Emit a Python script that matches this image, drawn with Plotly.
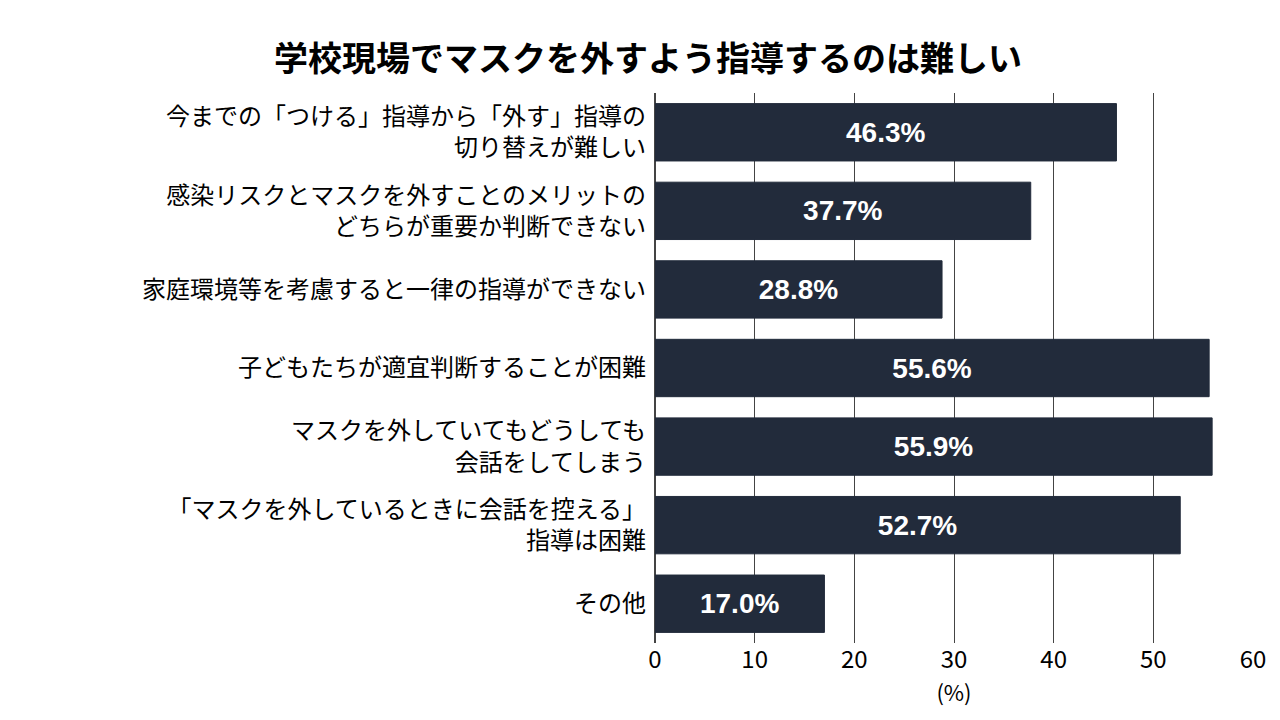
import plotly.graph_objects as go

categories = [
    "今までの「つける」指導から「外す」指導の<br>切り替えが難しい",
    "感染リスクとマスクを外すことのメリットの<br>どちらが重要か判断できない",
    "家庭環境等を考慮すると一律の指導ができない",
    "子どもたちが適宜判断することが困難",
    "マスクを外していてもどうしても<br>会話をしてしまう",
    "「マスクを外しているときに会話を控える」<br>指導は困難",
    "その他",
]
values = [46.3, 37.7, 28.8, 55.6, 55.9, 52.7, 17.0]
labels = [f"{v:.1f}%" for v in values]

font = "Noto Sans CJK JP"
fig = go.Figure(go.Bar(
    x=values, y=categories, orientation="h", width=0.73,
    marker=dict(color="#222b3b", line=dict(color="#222b3b", width=1)),
    text=labels, textposition="inside", insidetextanchor="middle",
    textfont=dict(color="white", size=28, family="Liberation Sans"),
    texttemplate="<b>%{text}</b>", cliponaxis=False,
))
fig.update_layout(
    width=1280, height=720, plot_bgcolor="white", paper_bgcolor="white",
    margin=dict(l=647, r=35, t=85, b=85),
    title=dict(text="<b>学校現場でマスクを外すよう指導するのは難しい</b>", x=0.5, xanchor="center",
               y=0.945, font=dict(size=34, family=font, color="black")),
    font=dict(family=font, color="black"),
    showlegend=False, bargap=0.27,
)
fig.update_xaxes(range=[0, 60], dtick=10, showgrid=True, gridcolor="#444", gridwidth=1,
                 zeroline=True, zerolinecolor="#444", tickfont=dict(size=24, family=font),
                 title=dict(text="(%)", font=dict(size=22, family=font), standoff=2),
                 ticks="", showline=False, automargin=False)
fig.update_yaxes(autorange="reversed", tickfont=dict(size=24, family=font), ticks="",
                 ticklabelstandoff=8, automargin=False)
fig.write_html("out.html")
